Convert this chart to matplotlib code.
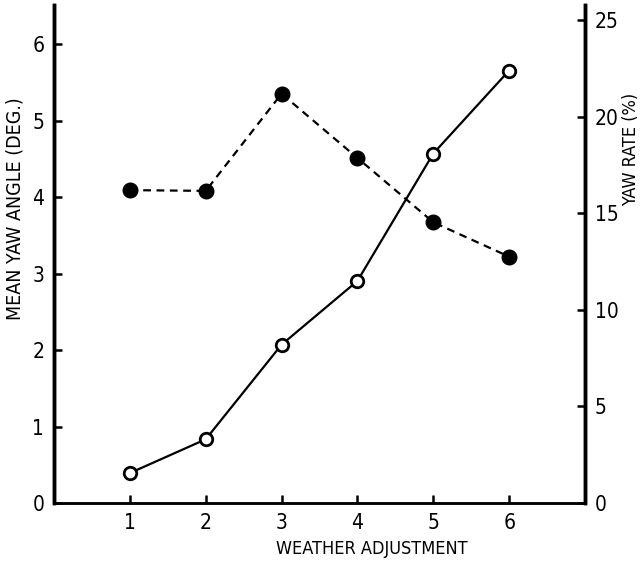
import matplotlib
matplotlib.use("Agg")
import matplotlib.pyplot as plt

plt.rcParams['font.family'] = ['DejaVu Sans']
plt.rcParams['font.stretch'] = 'condensed'

weather = [1, 2, 3, 4, 5, 6]
mean_yaw_angle = [4.09, 4.08, 5.35, 4.51, 3.67, 3.22]
yaw_rate = [1.55, 3.3, 8.2, 11.5, 18.1, 22.4]

fig = plt.figure(figsize=(6.42, 5.66), dpi=100)
ax = fig.add_axes([54 / 642, 63 / 566, 531 / 642, 498 / 566])
ax2 = ax.twinx()

ax.plot(weather, mean_yaw_angle, color='black', lw=1.6, ls=(0, (3.5, 2.5)),
        marker='o', ms=10.5, mfc='black', mec='black', zorder=3)
ax2.plot(weather, yaw_rate, color='black', lw=1.6, ls='-',
         marker='o', ms=9, mfc='white', mec='black', mew=2, zorder=3)

ax.set_xlim(0, 7)
ax.set_ylim(0, 6.51)
ax2.set_ylim(0, 6.51 * 25 / 6.31)
ax.set_xticks(weather)
ax.set_yticks(range(0, 7))
ax2.set_yticks(range(0, 26, 5))

for a in (ax, ax2):
    a.spines['top'].set_visible(False)
    a.spines['left'].set_linewidth(2.5)
    a.spines['right'].set_linewidth(2.5)
    a.spines['bottom'].set_linewidth(1.8)
    a.tick_params(direction='in', length=6, width=1.8, labelsize=15, pad=7)

ax.set_xlabel('WEATHER ADJUSTMENT', fontsize=13)
ax.xaxis.set_label_coords(0.599, -0.075)
ax.set_ylabel('MEAN YAW ANGLE (DEG.)', fontsize=14)
ax.yaxis.set_label_coords(-0.056, 0.59)
ax2.set_ylabel('YAW RATE (%)', fontsize=13)
ax2.yaxis.set_label_coords(1.069, 0.71)

fig.savefig('out.png', dpi=100)
